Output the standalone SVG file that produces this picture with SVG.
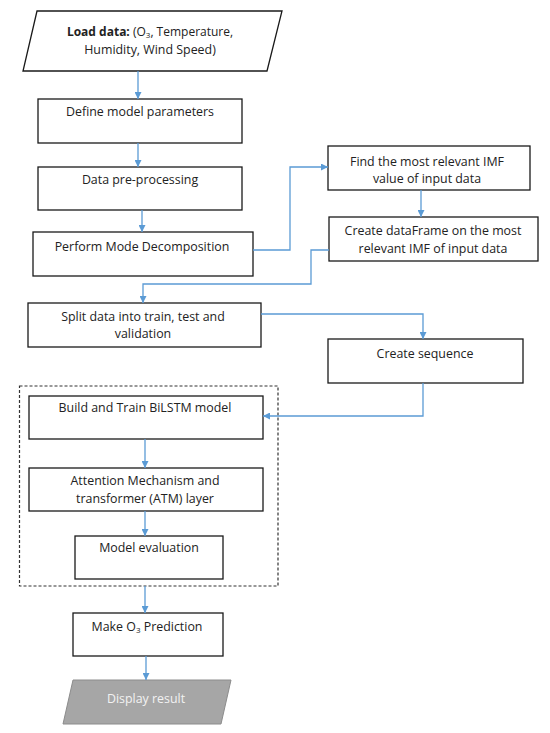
<svg xmlns="http://www.w3.org/2000/svg" width="550" height="733" viewBox="0 0 550 733">
<defs>
<marker id="ah" viewBox="0 0 8 8" refX="8" refY="4" markerWidth="7" markerHeight="7" markerUnits="userSpaceOnUse" orient="auto">
<path d="M0,0 L8,4 L0,8 z" fill="#5b9bd5"/>
</marker>
<style>
.box{fill:#ffffff;stroke:#1a1a1a;stroke-width:1.3}
.t{font-family:"Open Sans","Noto Sans","DejaVu Sans",sans-serif;font-size:12.4px;fill:#222222;text-anchor:middle}
.c{fill:none;stroke:#5b9bd5;stroke-width:1.3;marker-end:url(#ah)}
.dash{fill:none;stroke:#333333;stroke-width:1.2;stroke-dasharray:3,2}
</style>
</defs>
<rect width="550" height="733" fill="#ffffff"/>
<rect class="dash" x="19.500" y="386" width="258.500" height="200"/>
<g id="load">
<polygon class="box" points="37,11 282,11 267,71 23,71"/>
<text class="t" x="150" y="36" style="font-size:12px"><tspan font-weight="bold">Load data:</tspan> (O<tspan font-size="8" dy="2">3</tspan><tspan dy="-2">, Temperature,</tspan></text>
<text class="t" x="150" y="54">Humidity, Wind Speed)</text>
</g>
<g id="define">
<rect class="box" x="38" y="99" width="204" height="44"/>
<text class="t" x="140" y="116">Define model parameters</text>
</g>
<g id="preproc">
<rect class="box" x="38" y="167" width="204" height="43"/>
<text class="t" x="140" y="184">Data pre-processing</text>
</g>
<g id="decomp">
<rect class="box" x="33" y="232" width="220" height="44"/>
<text class="t" x="142" y="251">Perform Mode Decomposition</text>
</g>
<g id="findimf">
<rect class="box" x="328" y="146" width="202" height="44"/>
<text class="t" x="427" y="166">Find the most relevant IMF</text>
<text class="t" x="427" y="183">value of input data</text>
</g>
<g id="dataframe">
<rect class="box" x="329" y="217" width="209" height="44"/>
<text class="t" x="433" y="235">Create dataFrame on the most</text>
<text class="t" x="433" y="253">relevant IMF of input data</text>
</g>
<g id="split">
<rect class="box" x="28" y="303" width="233" height="44"/>
<text class="t" x="143" y="321">Split data into train, test and</text>
<text class="t" x="143" y="338">validation</text>
</g>
<g id="sequence">
<rect class="box" x="328" y="339" width="195" height="44"/>
<text class="t" x="425" y="358">Create sequence</text>
</g>
<g id="bilstm">
<rect class="box" x="29" y="396" width="234" height="43"/>
<text class="t" x="145" y="412">Build and Train BiLSTM model</text>
</g>
<g id="attention">
<rect class="box" x="29" y="468" width="234" height="43"/>
<text class="t" x="145" y="485">Attention Mechanism and</text>
<text class="t" x="145" y="503">transformer (ATM) layer</text>
</g>
<g id="evaluation">
<rect class="box" x="75" y="536" width="148" height="43"/>
<text class="t" x="149" y="552">Model evaluation</text>
</g>
<g id="predict">
<rect class="box" x="73" y="613" width="150" height="43"/>
<text class="t" x="147" y="631">Make O<tspan font-size="8" dy="2">3</tspan><tspan dy="-2"> Prediction</tspan></text>
</g>
<g id="display">
<polygon points="73,680 231,680 221,724 63,724" fill="#a6a6a6" stroke="#8c8c8c" stroke-width="1"/>
<text class="t" x="146" y="703" style="fill:#f2f2f2">Display result</text>
</g>
<g id="connectors">
<path class="c" d="M138,71 V99"/>
<path class="c" d="M138,143 V167"/>
<path class="c" d="M142,210 V232"/>
<path class="c" d="M253,250 H290 V167 H328"/>
<path class="c" d="M421,190 V217"/>
<path class="c" d="M329,250 H311 V284 H143 V303"/>
<path class="c" d="M261,314 H423 V339"/>
<path class="c" d="M423,383 V416 H263"/>
<path class="c" d="M145,439 V468"/>
<path class="c" d="M145,511 V536"/>
<path class="c" d="M145,586 V613"/>
<path class="c" d="M146,656 V680"/>
</g>
</svg>
